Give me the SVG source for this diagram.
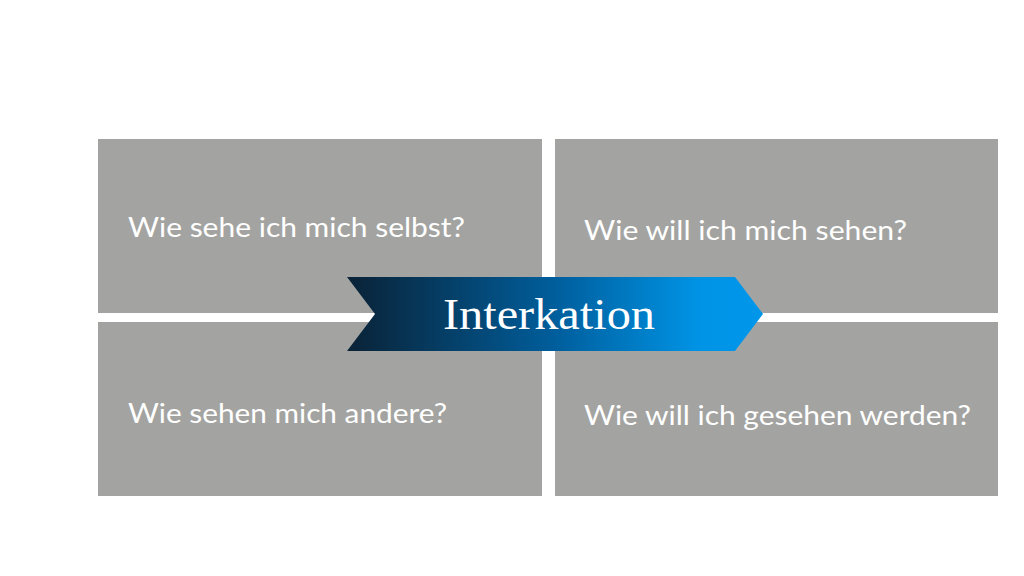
<svg xmlns="http://www.w3.org/2000/svg" width="1024" height="576" viewBox="0 0 1024 576">
<defs>
<linearGradient id="g" x1="347" y1="0" x2="763" y2="0" gradientUnits="userSpaceOnUse">
<stop offset="0" stop-color="#0a2236"/>
<stop offset="0.5" stop-color="#005e9c"/>
<stop offset="0.85" stop-color="#0094e6"/>
<stop offset="1" stop-color="#0096ea"/>
</linearGradient>
<style>
.box{fill:#a3a4a1}
.lbl{font-family:Lato,"Open Sans",sans-serif;font-size:27px;fill:#ffffff}
.arr{font-family:"Liberation Serif","DejaVu Serif",serif;font-size:44px;fill:#ffffff}
</style>
</defs>
<rect width="1024" height="576" fill="#ffffff"/>
<g id="q1"><rect class="box" x="98" y="139" width="444" height="174"/><text class="lbl" x="128" y="237" textLength="337" lengthAdjust="spacingAndGlyphs">Wie sehe ich mich selbst?</text></g>
<g id="q2"><rect class="box" x="555" y="139" width="443" height="174"/><text class="lbl" x="584" y="240" textLength="323" lengthAdjust="spacingAndGlyphs">Wie will ich mich sehen?</text></g>
<g id="q3"><rect class="box" x="98" y="322" width="444" height="174"/><text class="lbl" x="128" y="423" textLength="319" lengthAdjust="spacingAndGlyphs">Wie sehen mich andere?</text></g>
<g id="q4"><rect class="box" x="555" y="322" width="443" height="174"/><text class="lbl" x="584" y="425" textLength="387" lengthAdjust="spacingAndGlyphs">Wie will ich gesehen werden?</text></g>
<g id="interkation">
<polygon points="347,277 735,277 763,314 735,351 347,351 375,314" fill="url(#g)"/>
<text class="arr" x="443" y="329" textLength="212" lengthAdjust="spacingAndGlyphs">Interkation</text>
</g>
<g id="connectors"/>
</svg>
